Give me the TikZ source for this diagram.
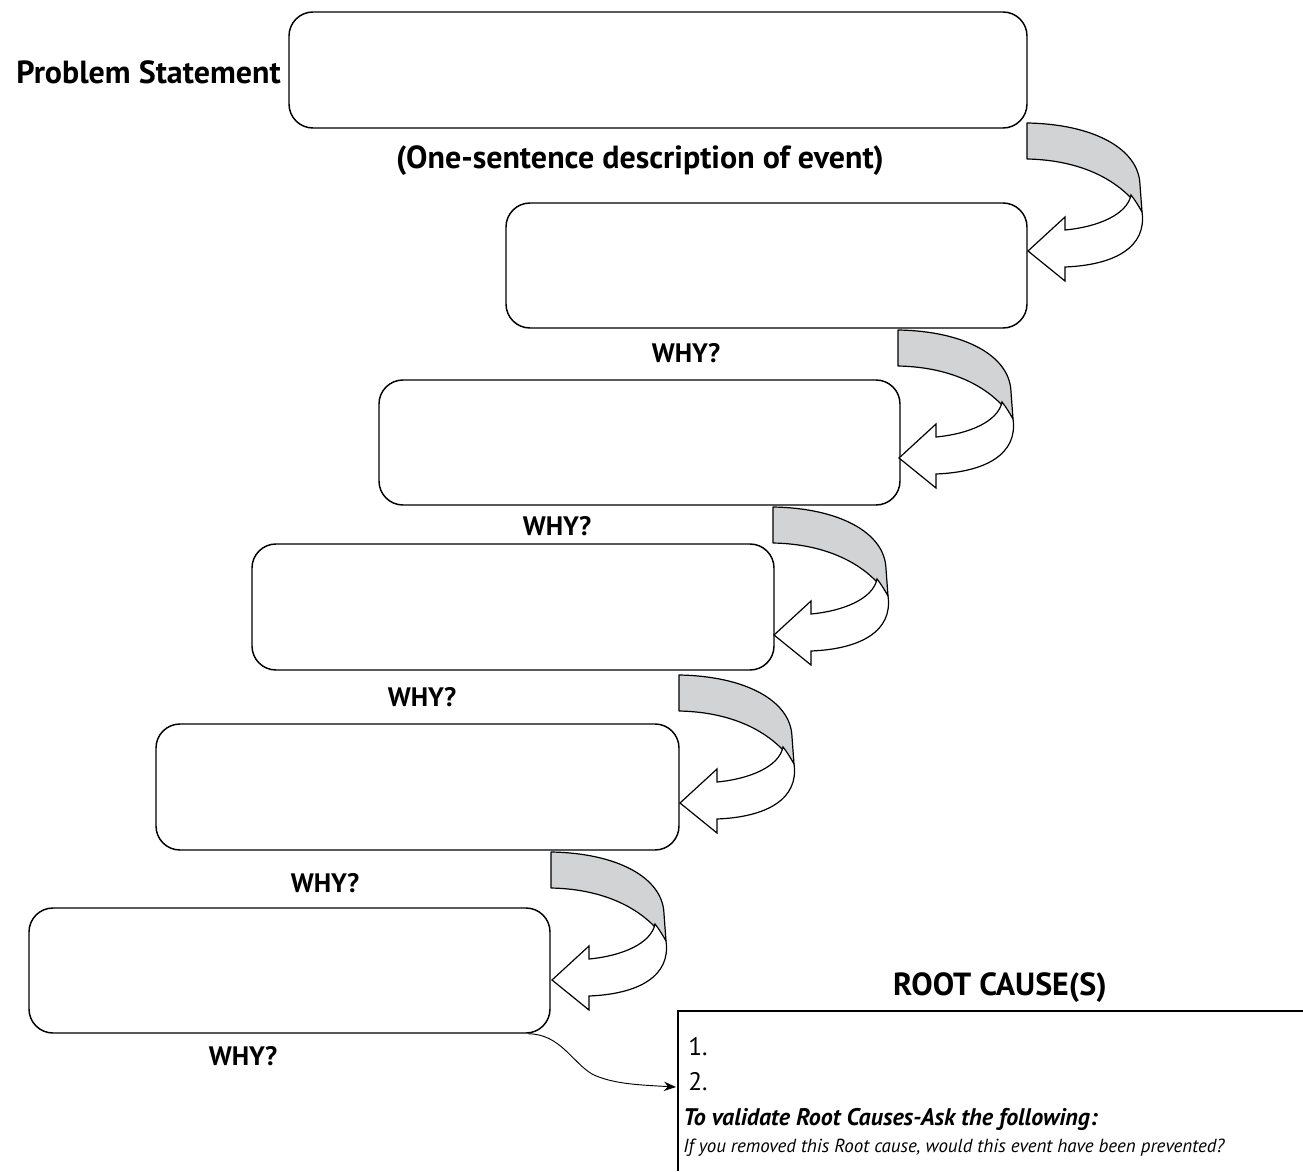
\documentclass[tikz,border=0pt]{standalone}
\usepackage{fontspec}
\setmainfont{PT Sans}
\usetikzlibrary{arrows.meta}
\definecolor{ribbon}{RGB}{209,211,212}
\tikzset{
  box/.style={draw=black, line width=1.1pt, rounded corners=18pt, inner sep=0pt},
  lbl/.style={inner sep=0pt},
  why/.style={font=\bfseries\fontsize{20}{22}\selectfont, inner sep=0pt, anchor=base},
  curl/.pic={
    \path[draw=black, line width=0.9pt, fill=ribbon, line join=round]
      (0,0) .. controls (65,1) and (112,25) .. (113,62) -- (115,89)
      .. controls (95,58) and (55,37) .. (0,36) -- cycle;
    \path[draw=black, line width=0.9pt, fill=white, line join=miter]
      (104,72) .. controls (100,92) and (70,104) .. (38,107) -- (38,94) -- (1,128)
      -- (38,158) -- (38,144) .. controls (88,142) and (120,124) .. (115,89)
      .. controls (111,82) and (108,77) .. (104,72) -- cycle;
  }
}
\begin{document}
\begin{tikzpicture}[x=0.75pt, y=-0.75pt]
\useasboundingbox (0,0) rectangle (1303,1171);
% boxes
\node[box, minimum width=738*0.75pt, minimum height=116*0.75pt] (b1) at (658,70) {};
\node[box, minimum width=521*0.75pt, minimum height=125*0.75pt] (b2) at (766.5,265.5) {};
\node[box, minimum width=521*0.75pt, minimum height=125*0.75pt] (b3) at (639.5,442.5) {};
\node[box, minimum width=522*0.75pt, minimum height=126*0.75pt] (b4) at (513,607) {};
\node[box, minimum width=523*0.75pt, minimum height=126*0.75pt] (b5) at (417.5,787) {};
\node[box, minimum width=521*0.75pt, minimum height=125*0.75pt] (b6) at (289.5,970.5) {};
% curled arrows
\pic at (1027,123) {curl};
\pic at (898,330) {curl};
\pic at (773,507) {curl};
\pic at (679,675) {curl};
\pic at (551,852) {curl};
% labels
\node[lbl, font=\bfseries\fontsize{24}{28}\selectfont, anchor=base east] (ps) at (281,83) {Problem Statement};
\node[lbl, font=\bfseries\fontsize{24}{28}\selectfont, anchor=base] (desc) at (640,168) {(One-sentence description of event)};
\node[why] (w1) at (686,362) {WHY?};
\node[why] (w2) at (557,535) {WHY?};
\node[why] (w3) at (422,706) {WHY?};
\node[why] (w4) at (325,892) {WHY?};
\node[why] (w5) at (243,1065) {WHY?};
% root cause box
\node[lbl, font=\bfseries\fontsize{24}{28}\selectfont, anchor=base] (rc) at (1000,995) {ROOT CAUSE(S)};
\coordinate (rtl) at (678,1011);
\coordinate (rtr) at (1303,1011);
\coordinate (rbl) at (678,1171);
\coordinate (rin) at (676,1087);
\draw[line width=1pt] (rtr) -- (rtl) -- (rbl);
\node[lbl, anchor=base west, font=\fontsize{19}{22}\selectfont] (n1) at (688,1055) {1.};
\node[lbl, anchor=base west, font=\fontsize{19}{22}\selectfont] (n2) at (688,1090) {2.};
\node[lbl, anchor=base west, font=\bfseries\itshape\fontsize{18}{20}\selectfont] (val) at (683,1125) {To validate Root Causes-Ask the following:};
\node[lbl, anchor=base west, font=\itshape\fontsize{14.2}{16}\selectfont] (q) at (683,1152) {If you removed this Root cause, would this event have been prevented?};
% connector
\draw[line width=0.7pt, -{Stealth[length=9pt, width=7pt]}]
  ([xshift=-17pt]b6.south east) .. controls (560,1034) and (572,1062) .. (592,1074)
  .. controls (612,1084) and (640,1085) .. (rin);
\end{tikzpicture}
\end{document}
